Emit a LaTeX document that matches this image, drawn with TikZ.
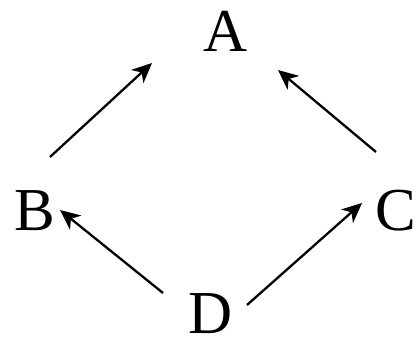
\documentclass[tikz,border=0pt]{standalone}
\usepackage{fontspec}
\setmainfont{Liberation Serif}
\usetikzlibrary{arrows.meta,calc}
\begin{document}
\begin{tikzpicture}[x=1pt,y=-1pt,
  lbl/.style={inner sep=0pt,font=\fontsize{61}{63}\selectfont},
  arr/.style={-{Stealth[length=20pt,width=18pt,inset=6pt]},line width=2.3pt}]
\useasboundingbox (0,0) rectangle (416,339);
\node[lbl] (A) at (226,31) {A};
\node[lbl] (B) at (35,211) {B};
\node[lbl] (C) at (396,211) {C};
\node[lbl] (D) at (211,314) {D};
\draw[arr] ($(B)+(15,-54)$) -- ($(A)+(-74,32)$);
\draw[arr] ($(C)+(-20,-59)$) -- ($(A)+(52,39)$);
\draw[arr] ($(D)+(-48,-21)$) -- ($(B)+(25,-1)$);
\draw[arr] ($(D)+(36,-9)$) -- ($(C)+(-34,-8)$);
\end{tikzpicture}
\end{document}
